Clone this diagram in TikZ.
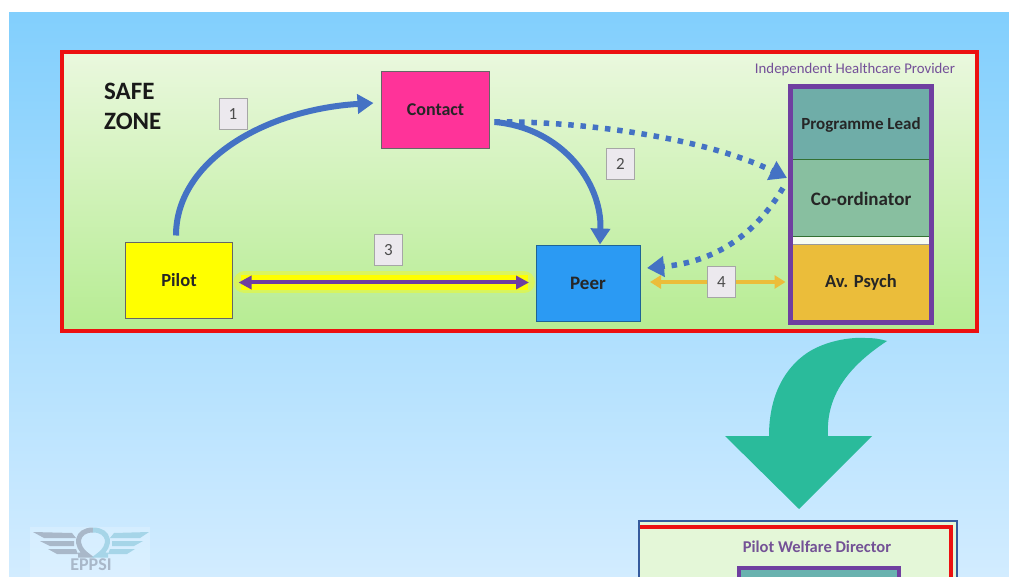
\documentclass[tikz,border=0pt]{standalone}
\usepackage{fontspec}
\setmainfont{Carlito}
\usetikzlibrary{arrows.meta,shadings}
\definecolor{bgtop}{HTML}{82CFFD}
\definecolor{bgbot}{HTML}{D2ECFF}
\definecolor{zonetop}{HTML}{EAF8DE}
\definecolor{zonebot}{HTML}{B6EC92}
\definecolor{framered}{HTML}{EC1111}
\definecolor{flowblue}{HTML}{4472C4}
\definecolor{provpurple}{HTML}{6F3FA0}
\definecolor{turngreen}{HTML}{2ABB9B}
\definecolor{amber}{HTML}{EBBD3A}
\definecolor{contactpink}{HTML}{FF3399}
\definecolor{peerblue}{HTML}{2B9AF3}
\definecolor{peeredge}{HTML}{1E6496}
\definecolor{leadteal}{HTML}{6FADA8}
\definecolor{coordgreen}{HTML}{88BFA0}
\definecolor{lowerzone}{HTML}{E4F7D8}
\definecolor{lowerteal}{HTML}{69B2AF}
\definecolor{numfill}{HTML}{ECE9EE}
\definecolor{logogray}{HTML}{A9B8C9}
\definecolor{logoblue}{HTML}{A6D5E8}
\definecolor{pureyellow}{HTML}{FFFF00}
\tikzset{
  x=1pt,y=-1pt,
  lbl/.style={font=\bfseries\fontsize{#1}{#1}\selectfont,text=black!85},
  role/.style={draw=black!60,fill=#1,line width=0.9pt,inner sep=0,outer sep=0},
  numbox/.style={draw=black!35,fill=numfill,line width=0.9pt,minimum width=28pt,minimum height=31pt,inner sep=0,font=\fontsize{17}{18}\selectfont,text=black!70},
  lane/.style={fill=#1,inner sep=0,outer sep=0,minimum width=138pt},
  solidflow/.style={draw=flowblue,line width=6pt,-{Triangle[length=16pt,width=19pt]}},
  dotflow/.style={draw=flowblue,line width=5.5pt,dash pattern=on 5.5pt off 6.8pt,-{Triangle[length=17pt,width=20pt]}},
}
\begin{document}
\begin{tikzpicture}
\useasboundingbox (0,0) rectangle (1009,577);
\fill[white] (0,0) rectangle (1009,577);
\shade[top color=bgtop,bottom color=bgbot] (9,13) rectangle (1009,577);
% logo
\fill[white,opacity=.2] (30,527) rectangle (150,577);
\fill[logogray] (33,532) -- (72,533) -- (76,538) -- (44,538) -- cycle;
\fill[logogray] (40,541) -- (74,541) -- (74,546) -- (50,546) -- cycle;
\fill[logogray] (48,549) -- (76,549) -- (78,554) -- (57,554) -- cycle;
\fill[logoblue] (149,532) -- (114,533) -- (110,538) -- (140,538) -- cycle;
\fill[logoblue] (143,541) -- (112,541) -- (112,546) -- (134,546) -- cycle;
\fill[logoblue] (135,549) -- (110,549) -- (108,554) -- (127,554) -- cycle;
\draw[logogray,line width=5pt] (78,555) -- (87,555) .. controls (74,546) and (76,530) .. (93,530);
\draw[logoblue,line width=5pt] (108,555) -- (99,555) .. controls (112,546) and (110,530) .. (93,530);
\node[font=\bfseries\fontsize{18}{18}\selectfont,text=logogray,inner sep=0] (logo) at (91,565) {EPPSI};
% safe zone
\shade[top color=zonetop,bottom color=zonebot] (62,52) rectangle (977,331);
\draw[framered,line width=4pt] (62,52) rectangle (977,331);
\node[font=\bfseries\fontsize{25}{30}\selectfont,align=left,anchor=north west,inner sep=0,text=black!90] (safe) at (104,83) {SAFE\\ZONE};
\node[font=\fontsize{14.8}{16}\selectfont,text=provpurple!75!gray,inner sep=0] (ihp) at (855,70) {Independent Healthcare Provider};
% boxes
\node[role=contactpink,lbl=18,minimum width=108pt,minimum height=77pt] (contact) at (435.5,109.5) {Contact};
\node[role=pureyellow,lbl=18.5,minimum width=107pt,minimum height=76pt] (pilot) at (179,280.5) {Pilot};
\node[role=peerblue,draw=peeredge,lbl=19,minimum width=104pt,minimum height=76pt] (peer) at (588,283.5) {Peer};
% provider
\fill[white!60!zonetop] (791,237) rectangle (931,245);
\node[lane=leadteal,lbl=17,minimum height=71pt] (lead) at (861,124.5) {Programme Lead};
\node[lane=coordgreen,lbl=19,minimum height=77pt] (coord) at (861,198.5) {Co-ordinator};
\node[lane=amber,lbl=18.5,minimum height=75pt] (psych) at (861,282.5) {Av. Psych};
\draw[black!60!green!60!gray,line width=1pt] (lead.south west) -- (lead.south east);
\draw[black!60!green!60!gray,line width=1pt] (coord.south west) -- (coord.south east);
\draw[gray!80,line width=1pt] (psych.north west) -- (psych.north east);
\node[draw=provpurple,line width=5pt,minimum width=141pt,minimum height=235pt,inner sep=0] (provider) at (861,204.5) {};
% numbers
\node[numbox] (n1) at (233,114) {1};
\node[numbox] (n2) at (620.5,164) {2};
\node[numbox] (n3) at (388.5,250) {3};
\node[numbox] (n4) at (721.5,282) {4};
% connectors
\draw[dotflow] ([xshift=5pt,yshift=-12.5pt]contact.east) .. controls ([xshift=80pt,yshift=-11pt]contact.east) and ([xshift=-92pt,yshift=63pt]coord.west) .. ([xshift=-5pt,yshift=20.5pt]coord.west);
\draw[dotflow] ([xshift=-9pt,yshift=10.5pt]coord.west) .. controls ([xshift=-37pt,yshift=-36.5pt]coord.west) and ([xshift=-77pt,yshift=-63.5pt]coord.west) .. ([xshift=7pt,yshift=15.5pt]peer.east);
\draw[solidflow] ([xshift=-3pt,yshift=7pt]pilot.north) .. controls ([xshift=-3pt,yshift=82pt]pilot.north) and ([xshift=-116pt,yshift=0pt]contact.west) .. ([xshift=-8pt,yshift=6.5pt]contact.west);
\draw[solidflow] ([xshift=5pt,yshift=-12.5pt]contact.east) .. controls ([xshift=70pt,yshift=-18pt]contact.east) and ([xshift=14pt,yshift=65pt]peer.north) .. ([xshift=12pt,yshift=1pt]peer.north);
\draw[pureyellow,opacity=.4,line width=22pt,line cap=round] ([xshift=12pt,yshift=-2pt]pilot.east) -- ([xshift=-12pt,yshift=1pt]peer.west);
\draw[pureyellow,line width=15pt] ([xshift=8pt,yshift=-2pt]pilot.east) -- ([xshift=-8pt,yshift=1pt]peer.west);
\draw[provpurple,line width=4pt,{Triangle[length=13pt,width=13pt]}-{Triangle[length=13pt,width=13pt]}] ([xshift=6pt,yshift=-2pt]pilot.east) -- ([xshift=-7pt,yshift=1pt]peer.west);
\draw[amber,line width=4pt,{Triangle[length=11pt,width=13pt]}-] ([xshift=10pt,yshift=1.5pt]peer.east) -- (n4.west);
\draw[amber,line width=4pt,-{Triangle[length=11pt,width=13pt]}] (n4.east) -- ([xshift=-2.5pt]provider.west |- n4.east);
% turn arrow
\fill[turngreen] (887,341) .. controls (880,339) and (875,338) .. (865,338) .. controls (850,337) and (825,341) .. (807,353) .. controls (785,368) and (769,395) .. (769,436) -- (725,436) -- (799,509) -- (872,436) -- (828,436) .. controls (826,400) and (843,370) .. (887,341) -- cycle;
% lower panel
\fill[lowerzone] (639,521) rectangle (957,577);
\draw[framered,line width=4.5pt] (640,527) -- (951,527) -- (951,577);
\draw[flowblue!80!black,line width=1.2pt] (639,577) -- (639,521) -- (957,521) -- (957,577);
\node[font=\bfseries\fontsize{16.5}{18}\selectfont,text=provpurple!70!gray,inner sep=0] (pwd) at (817,547) {Pilot Welfare Director};
\fill[lowerteal] (739,568) rectangle (899,577);
\draw[provpurple,line width=4.5pt] (739,577) -- (739,568) -- (899,568) -- (899,577);
\end{tikzpicture}
\end{document}
